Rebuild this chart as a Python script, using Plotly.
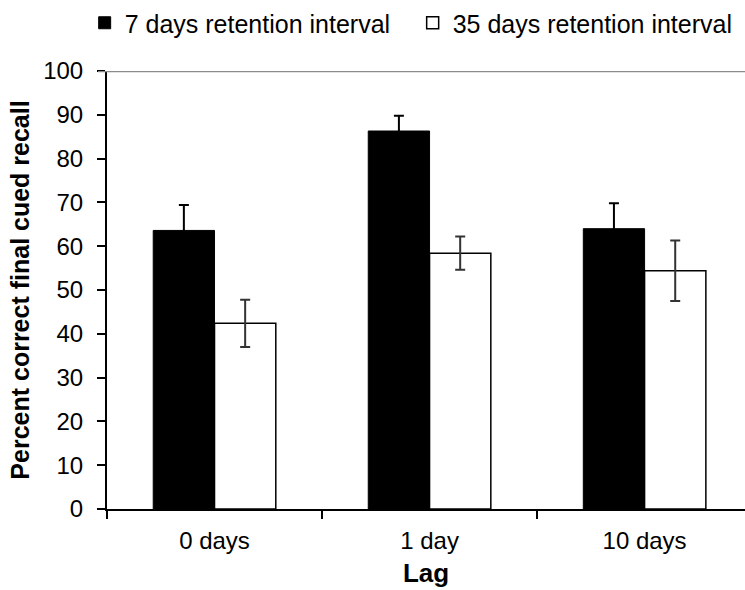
import plotly.graph_objects as go

categories = ["0 days", "1 day", "10 days"]
series_names = ["7 days retention interval", "35 days retention interval"]
values_7 = [63.6, 86.3, 64.0]
errors_7 = [5.8, 3.5, 5.8]
values_35 = [42.4, 58.4, 54.4]
errors_35 = [5.4, 3.8, 6.9]
y_ticks = list(range(0, 101, 10))

FONT = "Liberation Sans, Arial, sans-serif"

fig = go.Figure()
fig.add_trace(go.Bar(
    name=series_names[0], x=categories, y=values_7,
    marker=dict(color="#000000", line=dict(color="#000000", width=1)),
    error_y=dict(type="data", array=errors_7, visible=True, color="#000000", thickness=2, width=5),
))
fig.add_trace(go.Bar(
    name=series_names[1], x=categories, y=values_35,
    marker=dict(color="#ffffff", line=dict(color="#000000", width=1.5)),
    error_y=dict(type="data", array=errors_35, visible=True, color="#333333", thickness=2, width=5),
))

fig.update_layout(
    width=745, height=590,
    margin=dict(l=107, r=0, t=70, b=81),
    paper_bgcolor="white", plot_bgcolor="white",
    barmode="group", bargap=0.43, bargroupgap=0,
    font=dict(family=FONT, size=24, color="#000000"),
    showlegend=True,
    legend=dict(orientation="h", x=-0.035, xanchor="left", y=1.11, yanchor="middle",
                font=dict(family=FONT, size=25, color="#000000"),
                bgcolor="rgba(0,0,0,0)", entrywidth=283, entrywidthmode="pixels",
                traceorder="normal"),
    shapes=[dict(type="line", xref="paper", yref="y", x0=-0.014, x1=1, y0=100, y1=100,
                 line=dict(color="#8c8c8c", width=2.5), layer="above")],
)

fig.update_xaxes(
    range=[-0.5, 2.467], showline=True, linecolor="#000000", linewidth=2,
    ticks="outside", ticklen=8, tickwidth=1.5, tickcolor="#000000", tickson="boundaries",
    ticklabelstandoff=9,
    tickfont=dict(family=FONT, size=24, color="#000000"),
    showgrid=False, zeroline=False,
    title=dict(text="<b>Lag</b>", font=dict(family=FONT, size=26, color="#000000"), standoff=11),
)
fig.update_yaxes(
    range=[0, 100], tickvals=y_ticks, showline=True, linecolor="#000000", linewidth=2,
    ticks="outside", ticklen=8, tickwidth=1.5, tickcolor="#000000",
    ticklabelstandoff=9,
    tickfont=dict(family=FONT, size=24, color="#000000"),
    showgrid=False, zeroline=False,
    title=dict(text="<b>Percent correct final cued recall</b>", font=dict(family=FONT, size=25, color="#000000"), standoff=6),
)

fig.write_html("out.html")
